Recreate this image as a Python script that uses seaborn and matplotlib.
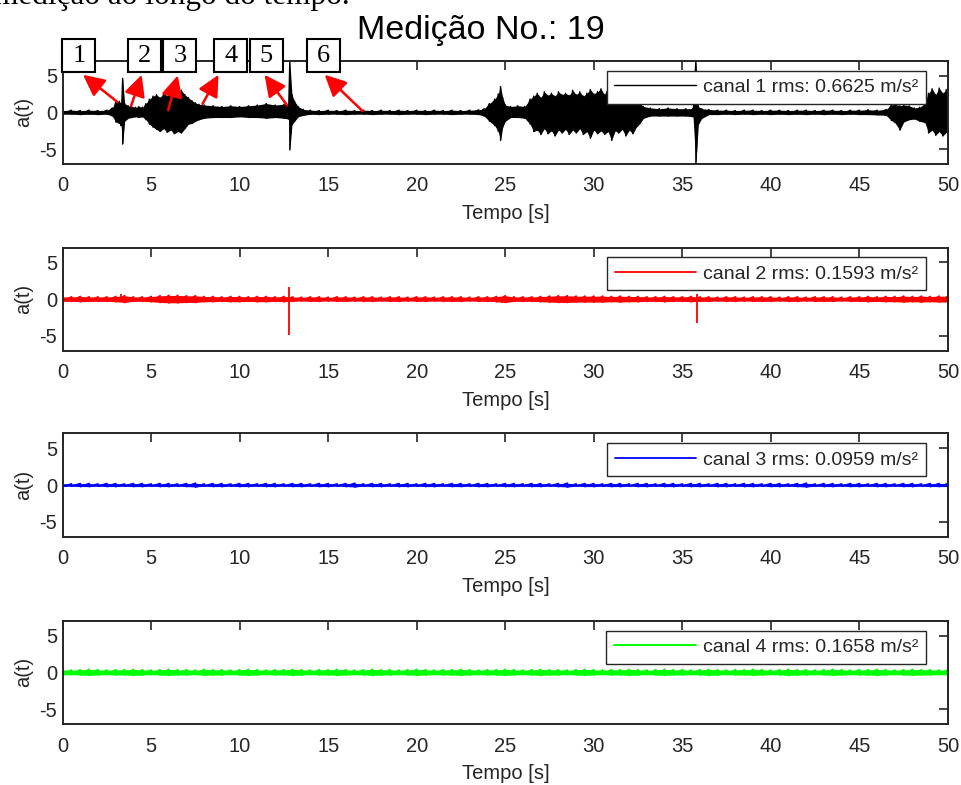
import matplotlib.pyplot as plt
from matplotlib.patches import Rectangle
import numpy as np
import pandas as pd
import seaborn as sns

# --- data ---
# channel 1: envelope of the signal (time [s], upper and lower peak [m/s²])
t1 = [0.0, 0.5, 1.0, 1.5, 2.0, 2.5, 2.8, 3.0, 3.2, 3.3,
      3.39, 3.5, 3.7, 3.9, 4.1, 4.3, 4.5, 4.7, 4.9, 5.1,
      5.3, 5.5, 5.7, 5.9, 6.1, 6.3, 6.5, 6.7, 6.9, 7.1,
      7.3, 7.5, 7.7, 8.0, 8.5, 9.0, 9.5, 10.0, 10.5, 11.0,
      11.5, 12.0, 12.5, 12.75, 12.83, 12.95, 13.1, 13.3, 13.6, 14.0,
      14.5, 15.0, 15.5, 16.0, 16.5, 17.0, 17.5, 18.0, 18.5, 19.0,
      19.5, 20.0, 20.5, 21.0, 21.5, 22.0, 22.5, 23.0, 23.5, 23.8,
      24.1, 24.4, 24.6, 24.73, 24.85, 25.0, 25.3, 25.7, 26.1, 26.4,
      26.6, 26.8, 27.0, 27.2, 27.4, 27.6, 27.8, 28.0, 28.2, 28.4,
      28.6, 28.8, 29.0, 29.2, 29.4, 29.6, 29.8, 30.0, 30.2, 30.4,
      30.6, 30.8, 31.0, 31.2, 31.4, 31.6, 31.8, 32.0, 32.2, 32.4,
      32.6, 32.8, 33.2, 33.7, 34.2, 34.7, 35.2, 35.6, 35.76, 35.9,
      36.1, 36.5, 37.0, 37.5, 38.0, 38.5, 39.0, 39.5, 40.0, 40.5,
      41.0, 41.5, 42.0, 42.5, 43.0, 43.5, 44.0, 44.5, 45.0, 45.5,
      46.0, 46.5, 46.8, 47.0, 47.28, 47.5, 47.8, 48.1, 48.4, 48.7,
      48.9, 49.1, 49.3, 49.5, 49.7, 49.9, 50.0]
hi1 = [0.25, 0.30, 0.25, 0.30, 0.25, 0.30, 0.60, 1.40, 1.50, 1.20,
       4.60, 1.20, 0.90, 0.80, 0.70, 0.80, 0.70, 1.20, 1.80, 2.20,
       2.40, 2.00, 2.60, 2.20, 2.80, 3.00, 2.60, 3.00, 2.40, 2.00,
       1.60, 1.30, 1.10, 1.00, 0.90, 0.80, 0.90, 0.80, 0.90, 1.00,
       1.20, 1.00, 1.10, 1.00, 7.00, 2.40, 1.50, 0.80, 0.40, 0.30,
       0.25, 0.30, 0.25, 0.30, 0.25, 0.30, 0.25, 0.30, 0.25, 0.30,
       0.25, 0.30, 0.25, 0.30, 0.25, 0.30, 0.25, 0.30, 0.35, 0.50,
       1.20, 1.80, 2.50, 3.50, 2.00, 1.00, 0.80, 0.90, 0.80, 1.80,
       2.20, 2.60, 2.00, 2.80, 2.30, 2.60, 2.20, 2.80, 2.40, 2.60,
       2.30, 3.00, 2.40, 2.80, 2.20, 2.60, 3.10, 2.50, 2.80, 3.20,
       2.40, 3.60, 2.60, 3.00, 2.40, 2.80, 2.20, 2.40, 2.00, 1.60,
       1.20, 0.80, 0.60, 0.50, 0.60, 0.50, 0.50, 0.50, 7.00, 0.80,
       0.50, 0.40, 0.30, 0.30, 0.25, 0.30, 0.30, 0.25, 0.30, 0.30,
       0.25, 0.30, 0.30, 0.25, 0.30, 0.30, 0.25, 0.30, 0.30, 0.35,
       0.30, 0.40, 1.00, 1.10, 0.90, 1.00, 0.90, 0.60, 0.70, 1.20,
       2.60, 3.20, 2.40, 3.30, 2.60, 3.10, 2.80]
lo1 = [-0.25, -0.25, -0.30, -0.25, -0.30, -0.25, -0.50, -1.30, -1.50, -1.80,
       -4.30, -1.20, -0.80, -0.70, -0.60, -0.70, -0.60, -1.00, -1.60, -2.00,
       -2.30, -2.60, -2.20, -2.70, -2.40, -2.90, -2.60, -2.80, -2.20, -1.60,
       -1.50, -1.20, -1.00, -0.80, -0.70, -0.70, -0.70, -0.60, -0.70, -0.70,
       -0.80, -0.70, -0.80, -0.90, -5.10, -1.70, -1.20, -0.60, -0.40, -0.25,
       -0.30, -0.25, -0.25, -0.30, -0.25, -0.25, -0.30, -0.25, -0.25, -0.30,
       -0.25, -0.25, -0.30, -0.25, -0.25, -0.30, -0.25, -0.25, -0.30, -0.50,
       -1.20, -1.80, -2.60, -3.80, -2.00, -1.20, -0.70, -0.70, -0.80, -1.60,
       -2.60, -2.40, -3.00, -2.20, -2.90, -2.50, -3.20, -2.40, -2.80, -2.30,
       -3.00, -2.40, -2.80, -2.20, -3.00, -2.60, -3.50, -2.40, -2.90, -2.50,
       -3.00, -2.60, -3.80, -2.50, -2.80, -2.30, -3.20, -2.40, -2.90, -2.00,
       -1.50, -0.80, -0.50, -0.50, -0.50, -0.50, -0.50, -0.60, -7.00, -1.60,
       -0.80, -0.30, -0.30, -0.25, -0.30, -0.25, -0.30, -0.25, -0.30, -0.25,
       -0.30, -0.25, -0.30, -0.25, -0.30, -0.25, -0.30, -0.25, -0.30, -0.30,
       -0.35, -0.40, -1.10, -1.40, -2.40, -1.30, -1.00, -0.90, -1.20, -1.40,
       -2.80, -2.40, -3.10, -2.60, -3.20, -2.70, -3.00]

# channels 2-4: noise amplitude every 0.5 s, plus isolated spikes
t_grid = np.arange(0, 50.5, 0.5)
amp2 = [0.30, 0.30, 0.35, 0.30, 0.30, 0.30, 0.35, 0.45, 0.30, 0.30,
        0.35, 0.45, 0.50, 0.50, 0.45, 0.45, 0.35, 0.35, 0.30, 0.35,
        0.35, 0.30, 0.35, 0.35, 0.30, 0.35, 0.30, 0.25, 0.30, 0.30,
        0.25, 0.30, 0.30, 0.25, 0.30, 0.30, 0.25, 0.30, 0.30, 0.25,
        0.30, 0.30, 0.25, 0.30, 0.30, 0.30, 0.25, 0.30, 0.30, 0.35,
        0.45, 0.30, 0.30, 0.30, 0.35, 0.40, 0.45, 0.45, 0.40, 0.40,
        0.40, 0.40, 0.35, 0.40, 0.35, 0.35, 0.30, 0.30, 0.35, 0.30,
        0.30, 0.35, 0.30, 0.30, 0.25, 0.30, 0.30, 0.25, 0.30, 0.30,
        0.30, 0.25, 0.30, 0.30, 0.25, 0.30, 0.30, 0.30, 0.25, 0.30,
        0.30, 0.35, 0.30, 0.35, 0.35, 0.40, 0.35, 0.40, 0.35, 0.40,
        0.40]
spk2_t = [3.3, 12.8, 24.8, 35.8]
spk2_hi = [0.70, 1.70, 0.30, 0.75]
spk2_lo = [-0.40, -4.80, -0.50, -3.30]

amp3 = [0.20, 0.15, 0.20, 0.20, 0.15, 0.20, 0.20, 0.15, 0.20, 0.20,
        0.15, 0.20, 0.20, 0.15, 0.20, 0.25, 0.15, 0.20, 0.20, 0.15,
        0.20, 0.20, 0.15, 0.20, 0.20, 0.15, 0.20, 0.20, 0.15, 0.20,
        0.20, 0.15, 0.20, 0.25, 0.15, 0.20, 0.20, 0.15, 0.20, 0.20,
        0.15, 0.20, 0.20, 0.15, 0.20, 0.20, 0.15, 0.20, 0.20, 0.15,
        0.20, 0.20, 0.15, 0.20, 0.20, 0.15, 0.20, 0.25, 0.15, 0.20,
        0.20, 0.15, 0.20, 0.20, 0.15, 0.20, 0.20, 0.15, 0.20, 0.20,
        0.15, 0.20, 0.20, 0.15, 0.20, 0.20, 0.15, 0.20, 0.20, 0.15,
        0.20, 0.20, 0.15, 0.20, 0.25, 0.15, 0.20, 0.20, 0.15, 0.20,
        0.20, 0.15, 0.20, 0.20, 0.15, 0.20, 0.20, 0.15, 0.20, 0.20,
        0.20]

amp4 = [0.35, 0.30, 0.35, 0.40, 0.35, 0.30, 0.35, 0.35, 0.40, 0.35,
        0.30, 0.35, 0.40, 0.35, 0.35, 0.30, 0.40, 0.35, 0.35, 0.30,
        0.35, 0.40, 0.35, 0.30, 0.35, 0.35, 0.40, 0.35, 0.30, 0.35,
        0.35, 0.40, 0.35, 0.30, 0.35, 0.40, 0.35, 0.35, 0.30, 0.35,
        0.40, 0.35, 0.30, 0.35, 0.35, 0.40, 0.35, 0.30, 0.35, 0.35,
        0.40, 0.35, 0.30, 0.35, 0.40, 0.35, 0.35, 0.30, 0.35, 0.40,
        0.35, 0.30, 0.35, 0.35, 0.40, 0.35, 0.30, 0.35, 0.40, 0.35,
        0.35, 0.30, 0.35, 0.40, 0.35, 0.30, 0.35, 0.35, 0.40, 0.35,
        0.30, 0.35, 0.40, 0.35, 0.35, 0.30, 0.35, 0.40, 0.35, 0.30,
        0.35, 0.35, 0.40, 0.35, 0.30, 0.35, 0.40, 0.35, 0.35, 0.30,
        0.35]

labels = ['canal 1 rms: 0.6625 m/s²', 'canal 2 rms: 0.1593 m/s²',
          'canal 3 rms: 0.0959 m/s²', 'canal 4 rms: 0.1658 m/s²']
colors = ['black', '#FF0000', '#0000FF', '#00FF00']

# event markers on channel 1: label, box centre time, arrow head, arrow tail
event_names = ['1', '2', '3', '4', '5', '6']
event_box_t = [0.92, 4.62, 6.62, 9.5, 11.5, 14.75]
event_head = [(1.15, 5.1), (4.46, 5.1), (6.5, 5.0), (8.8, 5.1), (11.4, 5.1), (14.8, 5.1)]
event_tail = [(3.1, 1.4), (3.86, 0.85), (5.96, 0.3), (7.9, 1.15), (12.68, 0.95), (16.94, 0.17)]


def zigzag(t, hi, lo):
    # each reading becomes a vertical stroke from upper to lower peak
    x = np.repeat(np.asarray(t, dtype=float), 2)
    y = np.column_stack([hi, lo]).ravel()
    return pd.DataFrame({'t': x, 'a': y})


envelopes = [(np.array(t1), np.array(hi1), np.array(lo1)),
             (t_grid, np.array(amp2), -np.array(amp2)),
             (t_grid, np.array(amp3), -np.array(amp3)),
             (t_grid, np.array(amp4), -np.array(amp4))]
spikes = [None, (spk2_t, spk2_hi, spk2_lo), None, None]
widths = [1.0, 1.3, 1.3, 1.4]

sns.set_theme(style='white')
plt.rcParams['font.family'] = ['Liberation Sans', 'DejaVu Sans']
plt.rcParams['axes.unicode_minus'] = False
ink = '#262626'

fig = plt.figure(figsize=(9.61, 7.85), dpi=100)
bottoms = [0.7911, 0.5532, 0.3163, 0.0777]
axes = []
for k in range(4):
    ax = fig.add_axes([0.0652, bottoms[k], 0.9213, 0.1315])
    tk, hk, lk = envelopes[k]
    ax.fill_between(tk, hk, lk, color=colors[k], lw=0)
    sns.lineplot(data=zigzag(tk, hk, lk), x='t', y='a', sort=False, estimator=None,
                 color=colors[k], lw=widths[k], label=labels[k], ax=ax)
    if spikes[k] is not None:
        st, sh, sl = spikes[k]
        ax.vlines(st, sl, sh, color=colors[k], lw=widths[k])
    ax.set_xlim(0, 50)
    ax.set_ylim(-7, 7)
    ax.set_xticks(range(0, 51, 5))
    ax.set_yticks([-5, 0, 5])
    ax.tick_params(direction='in', length=6.5, width=1.2, top=True, right=True,
                   labelsize=14.5, colors=ink)
    ax.tick_params(axis='x', pad=9)
    ax.tick_params(axis='y', pad=4)
    for s in ax.spines.values():
        s.set_visible(True)
        s.set_linewidth(1.4)
        s.set_color(ink)
    ax.set_xlabel('Tempo [s]', fontsize=14.5, color=ink)
    ax.set_ylabel('a(t)', fontsize=14.5, color=ink)
    ax.xaxis.set_label_coords(0.5, -0.39)
    ax.yaxis.set_label_coords(-0.033, 0.5)
    leg = ax.legend(loc='upper right', bbox_to_anchor=(0.975, 0.905), borderaxespad=0,
                    fontsize=14, handlelength=4.2, handletextpad=0.35, borderpad=0.4,
                    fancybox=False, framealpha=1, edgecolor=ink)
    leg.get_frame().set_linewidth(1.0)
    for txt in leg.get_texts():
        txt.set_color(ink)
    axes.append(ax)

# numbered boxes and red arrows on channel 1
ax = axes[0]
for name, tc, head, tail in zip(event_names, event_box_t, event_head, event_tail):
    ax.annotate('', xy=head, xytext=tail, annotation_clip=False, zorder=5,
                arrowprops=dict(arrowstyle='-|>,head_length=0.65,head_width=0.32',
                                color='red', lw=1.8, mutation_scale=20,
                                shrinkA=0, shrinkB=0))
    ax.add_patch(Rectangle((tc - 0.93, 5.5), 1.86, 4.4, facecolor='white',
                           edgecolor='black', lw=1.5, clip_on=False, zorder=6))
    ax.text(tc, 7.7, name, ha='center', va='center', fontsize=19,
            family=['Liberation Serif'], color='black', zorder=7, clip_on=False)

fig.text(0.5, 1 - 39 / 785, 'Medição No.: 19', ha='center', va='baseline',
         fontsize=24.5, color='black')
# caption of the page above, cut off at the top edge
fig.text(-0.006, 1 - 4 / 785, 'medição ao longo do tempo.', ha='left', va='baseline',
         fontsize=22.5, family=['Liberation Serif'], color='black')

fig.savefig('out.png', dpi=100)
